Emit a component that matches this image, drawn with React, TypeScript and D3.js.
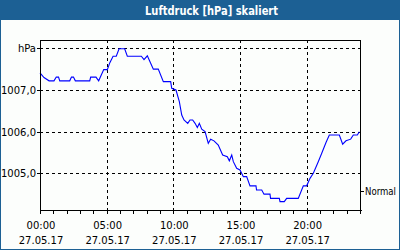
import React from "react";
import * as d3 from "d3";

const title = "Luftdruck [hPa] skaliert";
const hours = [0, 0.3, 0.68, 1.05, 1.22, 1.39, 1.48, 2.23, 2.36, 2.51, 2.65, 3.73, 3.8, 4.2, 4.4, 4.78, 5.05, 5.23, 5.48, 5.72, 5.93, 6.35, 6.55, 7.6, 7.8, 8.05, 8.25, 8.5, 8.87, 9.25, 9.8, 9.88, 10.2, 10.45, 10.63, 10.8, 11.08, 11.25, 11.45, 11.63, 11.8, 11.95, 12.13, 12.38, 12.62, 12.8, 13.05, 13.37, 13.7, 14.05, 14.2, 14.38, 14.5, 14.75, 15.0, 15.25, 15.5, 15.75, 16.2, 16.24, 16.63, 16.8, 17.25, 17.29, 17.95, 18.0, 18.32, 18.5, 19.37, 19.75, 20.0, 20.25, 20.5, 20.87, 21.13, 21.45, 21.7, 22.45, 22.7, 22.95, 23.3, 23.5, 23.8, 23.95];
const pressure = [1007.41, 1007.3, 1007.22, 1007.22, 1007.31, 1007.31, 1007.22, 1007.22, 1007.31, 1007.31, 1007.22, 1007.22, 1007.31, 1007.31, 1007.22, 1007.49, 1007.49, 1007.65, 1007.81, 1007.81, 1007.99, 1007.99, 1007.81, 1007.81, 1007.73, 1007.82, 1007.68, 1007.5, 1007.5, 1007.2, 1007.2, 1007.04, 1007.0, 1006.72, 1006.4, 1006.28, 1006.2, 1006.28, 1006.28, 1006.2, 1006.1, 1006.2, 1006.06, 1006.0, 1005.72, 1005.82, 1005.78, 1005.68, 1005.44, 1005.4, 1005.3, 1005.44, 1005.28, 1005.12, 1005.08, 1004.92, 1004.92, 1004.7, 1004.7, 1004.6, 1004.6, 1004.5, 1004.5, 1004.4, 1004.4, 1004.32, 1004.32, 1004.4, 1004.4, 1004.7, 1004.7, 1004.88, 1005.0, 1005.28, 1005.48, 1005.74, 1005.92, 1005.92, 1005.7, 1005.78, 1005.82, 1005.92, 1005.92, 1006.0];
const yTicks = [1005, 1006, 1007, 1008];
const yTickLabels = ["1005,0", "1006,0", "1007,0", "hPa"];
const xTicks = [0, 5, 10, 15, 20];
const xTimeLabels = ["00:00", "05:00", "10:00", "15:00", "20:00"];
const dateLabel = "27.05.17";
const normalValue = 1004.58;
const normalLabel = "Normal";

const W = 400, H = 250;
const L = 40, R = 360, T = 40, B = 210;
const blue = "#1c6094";
const font = "'DejaVu Sans', Verdana, sans-serif";

export default function App() {
  const x = d3.scaleLinear().domain([0, 24]).range([L, R]);
  const y = d3.scaleLinear().domain([1004.12, 1008.2]).range([B, T]);
  const line = d3.line<number>().x((_, i) => x(hours[i])).y((d) => y(d)).curve(d3.curveLinear);
  const hourTicks = d3.range(0, 25);
  const px = (v: number) => Math.round(v) + 0.5;

  return (
    <svg width={W} height={H} style={{ position: "absolute", left: 0, top: 0, display: "block" }}>
      <rect x={0} y={0} width={W} height={H} fill="#fcfefc" />
      <rect x={0.5} y={0.5} width={W - 1} height={H - 1} fill="none" stroke={blue} />
      <rect x={0} y={0} width={W} height={20} fill={blue} />
      <text x={211.5} y={14.5} textAnchor="middle" fill="#fff" fontFamily={font} fontWeight="bold" fontSize={12} textLength={133} lengthAdjust="spacingAndGlyphs">{title}</text>

      {/* grid */}
      <g stroke="#000" strokeDasharray="3,3" shapeRendering="crispEdges">
        {yTicks.map((t) => (
          <line key={"gy" + t} x1={L} x2={R} y1={px(y(t))} y2={px(y(t))} />
        ))}
        {xTicks.slice(1).map((t) => (
          <line key={"gx" + t} x1={px(x(t))} x2={px(x(t))} y1={T} y2={B} />
        ))}
      </g>

      {/* data */}
      <path d={line(pressure) || ""} fill="none" stroke="#0000ff" strokeWidth={1.1} />

      {/* frame */}
      <g stroke="#000" shapeRendering="crispEdges" fill="none">
        <line x1={px(L)} x2={px(L)} y1={T} y2={B + 1} />
        <line x1={L} x2={R + 1} y1={px(T)} y2={px(T)} />
        <line x1={L} x2={R + 2} y1={px(B)} y2={px(B)} />
        <line x1={px(R)} x2={px(R)} y1={T} y2={B + 1} />
        {yTicks.map((t) => (
          <line key={"ty" + t} x1={L - 3} x2={L} y1={px(y(t))} y2={px(y(t))} />
        ))}
        {hourTicks.map((h) => (
          <line key={"th" + h} x1={px(x(h))} x2={px(x(h))} y1={B} y2={B + 4} />
        ))}
        <line x1={R} x2={R + 4} y1={px(y(normalValue))} y2={px(y(normalValue))} />
      </g>

      {/* labels */}
      <g fontFamily={font} fontSize={10} fill="#000">
        {yTicks.map((t, i) => (
          <text key={"ly" + t} x={36} y={y(t) + 4} textAnchor="end">{yTickLabels[i]}</text>
        ))}
        {xTicks.map((t, i) => (
          <g key={"lx" + t}>
            <text x={x(t) + 1} y={229} textAnchor="middle">{xTimeLabels[i]}</text>
            <text x={x(t) + 1} y={244} textAnchor="middle">{dateLabel}</text>
          </g>
        ))}
        <text x={365} y={y(normalValue) + 4.5} textLength={31} lengthAdjust="spacingAndGlyphs">{normalLabel}</text>
      </g>
    </svg>
  );
}
